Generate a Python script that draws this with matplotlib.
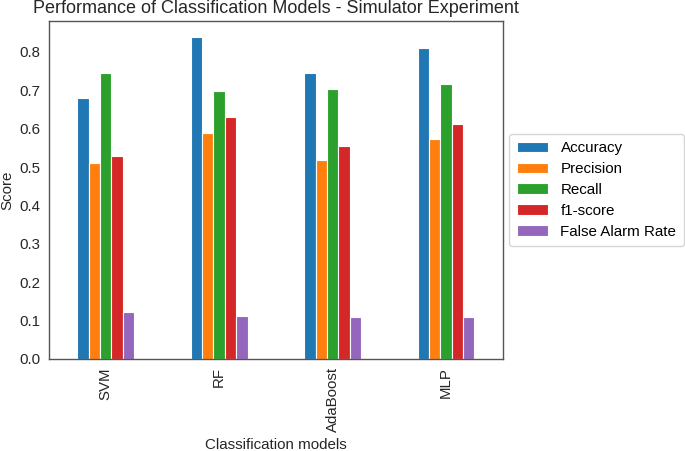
import matplotlib
matplotlib.use("Agg")
import matplotlib.pyplot as plt
import numpy as np

plt.rcParams['font.family'] = ['Liberation Sans', 'DejaVu Sans']

models = ["SVM", "RF", "AdaBoost", "MLP"]
metrics = ["Accuracy", "Precision", "Recall", "f1-score", "False Alarm Rate"]
accuracy = [0.680, 0.838, 0.746, 0.810]
precision = [0.511, 0.589, 0.519, 0.572]
recall = [0.745, 0.698, 0.704, 0.716]
f1_score = [0.530, 0.630, 0.555, 0.612]
false_alarm = [0.122, 0.113, 0.110, 0.110]
series = [accuracy, precision, recall, f1_score, false_alarm]
colors = ["#1f77b4", "#ff7f0e", "#2ca02c", "#d62728", "#9467bd"]

fig = plt.figure(figsize=(6.85, 4.51), dpi=100)
ax = fig.add_axes([0.0715, 0.204, 0.6625, 0.749])

x = np.arange(len(models))
w = 0.1
for i, (vals, name, c) in enumerate(zip(series, metrics, colors)):
    ax.bar(x + (i - 2) * w, vals, width=w, color=c, edgecolor='white',
           linewidth=0.8, label=name)

ax.set_xlim(-0.5, len(models) - 0.5)
ax.set_ylim(0, 0.88)
ax.set_yticks(np.arange(0, 0.81, 0.1))
ax.set_yticklabels([f"{v:.1f}" for v in np.arange(0, 0.81, 0.1)])
ax.set_xticks(x)
ax.set_xticklabels(models, rotation=90)
ax.tick_params(axis='both', labelsize=10.8, length=0, pad=6, colors='#262626')
for s in ax.spines.values():
    s.set_color('#555555')
    s.set_linewidth(1.0)

ax.set_title("Performance of Classification Models - Simulator Experiment",
             fontsize=13, color='#262626', pad=6)
ax.set_xlabel("Classification models", fontsize=10.9, color='#262626')
ax.set_ylabel("Score", fontsize=10.9, color='#262626')

leg = ax.legend(loc='center left', bbox_to_anchor=(0.997, 0.5), fontsize=10.9,
                frameon=True, handlelength=2.1, borderpad=0.5, labelspacing=0.45)
leg.get_frame().set_edgecolor('#cccccc')

fig.savefig("out.png", dpi=100)
